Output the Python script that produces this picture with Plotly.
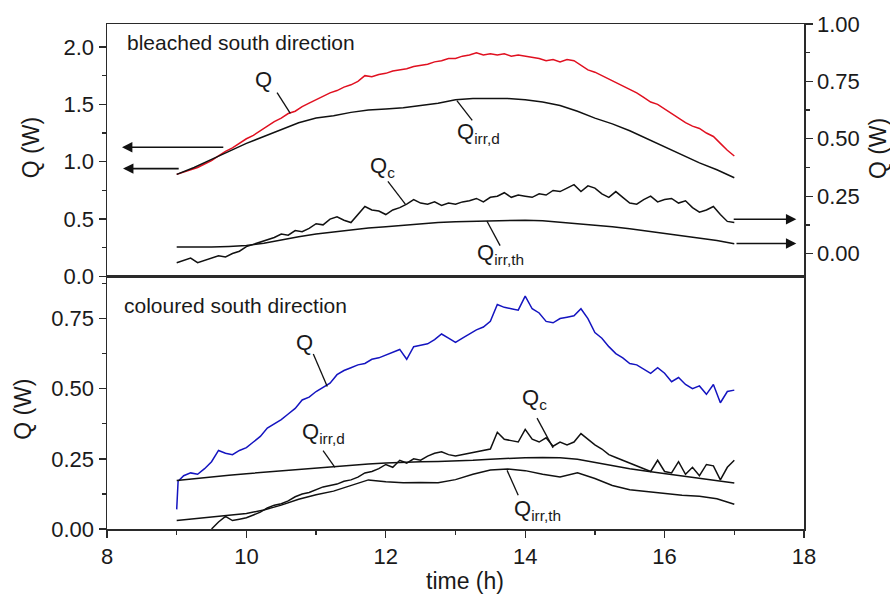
import plotly.graph_objects as go

# ---------------- data ----------------
t_fine = [9.0, 9.1, 9.2, 9.3, 9.4, 9.5, 9.6, 9.7, 9.8, 9.9,
          10.0, 10.1, 10.2, 10.3, 10.4, 10.5, 10.6, 10.7, 10.8, 10.9,
          11.0, 11.1, 11.2, 11.3, 11.4, 11.5, 11.6, 11.7, 11.8, 11.9,
          12.0, 12.1, 12.2, 12.3, 12.4, 12.5, 12.6, 12.7, 12.8, 12.9,
          13.0, 13.1, 13.2, 13.3, 13.4, 13.5, 13.6, 13.7, 13.8, 13.9,
          14.0, 14.1, 14.2, 14.3, 14.4, 14.5, 14.6, 14.7, 14.8, 14.9,
          15.0, 15.1, 15.2, 15.3, 15.4, 15.5, 15.6, 15.7, 15.8, 15.9,
          16.0, 16.1, 16.2, 16.3, 16.4, 16.5, 16.6, 16.7, 16.8, 16.9,
          17.0]

t_coarse = [9.0, 9.25, 9.5, 9.75, 10.0, 10.25, 10.5, 10.75, 11.0, 11.25, 11.5,
            11.75, 12.0, 12.25, 12.5, 12.75, 13.0, 13.25, 13.5, 13.75, 14.0,
            14.25, 14.5, 14.75, 15.0, 15.25, 15.5, 15.75, 16.0, 16.25, 16.5,
            16.75, 17.0]

t_blue = [9.0, 9.02, 9.1, 9.2, 9.3, 9.4, 9.5, 9.6, 9.7, 9.8, 9.9,
          10.0, 10.1, 10.2, 10.3, 10.4, 10.5, 10.6, 10.7, 10.8, 10.9,
          11.0, 11.1, 11.2, 11.3, 11.4, 11.5, 11.6, 11.7, 11.8, 11.9,
          12.0, 12.1, 12.2, 12.3, 12.4, 12.5, 12.6, 12.7, 12.8, 12.9,
          13.0, 13.1, 13.2, 13.3, 13.4, 13.5, 13.6, 13.7, 13.8, 13.9,
          14.0, 14.1, 14.2, 14.3, 14.4, 14.5, 14.6, 14.7, 14.8, 14.9,
          15.0, 15.1, 15.2, 15.3, 15.4, 15.5, 15.6, 15.7, 15.8, 15.9,
          16.0, 16.1, 16.2, 16.3, 16.4, 16.5, 16.6, 16.7, 16.8, 16.9,
          17.0]

# bleached south direction (top panel)
bleached_Q = [0.89, 0.91, 0.93, 0.95, 0.98, 1.01, 1.05, 1.09, 1.12, 1.16,
              1.20, 1.23, 1.27, 1.31, 1.35, 1.38, 1.42, 1.44, 1.48, 1.51,
              1.54, 1.57, 1.60, 1.62, 1.65, 1.67, 1.70, 1.75, 1.74, 1.76,
              1.77, 1.79, 1.80, 1.81, 1.83, 1.84, 1.85, 1.87, 1.88, 1.90,
              1.90, 1.92, 1.93, 1.95, 1.93, 1.94, 1.93, 1.94, 1.92, 1.93,
              1.92, 1.91, 1.90, 1.88, 1.89, 1.87, 1.89, 1.88, 1.84, 1.80,
              1.78, 1.75, 1.72, 1.69, 1.66, 1.63, 1.60, 1.56, 1.52, 1.50,
              1.46, 1.42, 1.38, 1.34, 1.31, 1.29, 1.25, 1.22, 1.16, 1.10,
              1.05]

bleached_Qirr_d = [0.89, 0.95, 1.02, 1.09, 1.16, 1.22, 1.28, 1.34, 1.38, 1.40, 1.43,
                   1.45, 1.46, 1.47, 1.49, 1.51, 1.54, 1.55, 1.55, 1.55, 1.54,
                   1.52, 1.49, 1.44, 1.38, 1.33, 1.27, 1.20, 1.13, 1.06, 0.99,
                   0.93, 0.86]

bleached_Qc = [-0.04, -0.03, -0.02, -0.04, -0.03, -0.02, -0.01, -0.015, 0.00, 0.01,
               0.03, 0.04, 0.05, 0.06, 0.07, 0.085, 0.08, 0.10, 0.095, 0.11,
               0.13, 0.125, 0.15, 0.16, 0.145, 0.135, 0.17, 0.205, 0.19, 0.185,
               0.17, 0.19, 0.20, 0.215, 0.235, 0.22, 0.215, 0.225, 0.21, 0.22,
               0.215, 0.225, 0.23, 0.24, 0.225, 0.245, 0.25, 0.265, 0.245, 0.255,
               0.25, 0.245, 0.26, 0.255, 0.275, 0.27, 0.285, 0.30, 0.27, 0.295,
               0.285, 0.26, 0.245, 0.27, 0.245, 0.22, 0.215, 0.235, 0.25, 0.225,
               0.235, 0.24, 0.22, 0.23, 0.20, 0.18, 0.19, 0.205, 0.17, 0.14,
               0.135]

bleached_Qirr_th = [0.028, 0.027, 0.028, 0.031, 0.035, 0.045, 0.06, 0.073, 0.085, 0.094, 0.103,
                    0.111, 0.117, 0.124, 0.13, 0.135, 0.139, 0.141, 0.143, 0.146, 0.145,
                    0.143, 0.137, 0.13, 0.123, 0.117, 0.108, 0.098, 0.088, 0.079, 0.07,
                    0.057, 0.043]

# coloured south direction (bottom panel)
coloured_Q = [0.07, 0.17,
              0.19, 0.20, 0.195, 0.215, 0.24, 0.28, 0.27, 0.265, 0.28,
              0.29, 0.31, 0.33, 0.36, 0.375, 0.39, 0.41, 0.43, 0.46, 0.47,
              0.49, 0.505, 0.52, 0.55, 0.565, 0.575, 0.585, 0.59, 0.605, 0.61,
              0.62, 0.63, 0.64, 0.605, 0.65, 0.655, 0.66, 0.675, 0.695, 0.68,
              0.665, 0.68, 0.695, 0.71, 0.72, 0.74, 0.80, 0.79, 0.785, 0.78,
              0.83, 0.785, 0.77, 0.74, 0.735, 0.75, 0.755, 0.76, 0.785, 0.75,
              0.70, 0.68, 0.65, 0.625, 0.61, 0.59, 0.585, 0.57, 0.555, 0.575,
              0.555, 0.525, 0.54, 0.515, 0.50, 0.51, 0.48, 0.515, 0.45, 0.49,
              0.495]

coloured_Qirr_d = [0.173, 0.18, 0.186, 0.192, 0.197, 0.202, 0.207, 0.213, 0.219, 0.224, 0.228,
                   0.232, 0.235, 0.238, 0.24, 0.241, 0.242, 0.245, 0.249, 0.252, 0.254,
                   0.255, 0.254, 0.249, 0.238, 0.225, 0.215, 0.206, 0.198, 0.19, 0.182,
                   0.173, 0.164]

coloured_Qc = [None, None, None, None, None, 0.00, 0.025, 0.045, 0.03, 0.035,
               0.04, 0.05, 0.06, 0.075, 0.085, 0.09, 0.10, 0.115, 0.125, 0.13,
               0.14, 0.15, 0.155, 0.16, 0.17, 0.175, 0.185, 0.20, 0.205, 0.215,
               0.23, 0.22, 0.245, 0.235, 0.25, 0.245, 0.26, 0.27, 0.275, 0.265,
               0.26, 0.265, 0.27, 0.275, 0.28, 0.285, 0.345, 0.32, 0.315, 0.31,
               0.355, 0.32, 0.31, 0.325, 0.295, 0.31, 0.30, 0.31, 0.34, 0.32,
               0.30, 0.285, 0.265, 0.255, 0.245, 0.235, 0.225, 0.215, 0.205, 0.245,
               0.205, 0.20, 0.24, 0.195, 0.22, 0.19, 0.23, 0.225, 0.175, 0.22,
               0.245]

coloured_Qirr_th = [0.03, 0.036, 0.042, 0.048, 0.055, 0.068, 0.085, 0.106, 0.122, 0.135, 0.155,
                    0.175, 0.168, 0.165, 0.166, 0.165, 0.176, 0.195, 0.21, 0.214, 0.208,
                    0.195, 0.185, 0.2, 0.18, 0.155, 0.14, 0.133, 0.127, 0.12, 0.117,
                    0.108, 0.088]

# ---------------- styling ----------------
FONT = "Arial, 'Liberation Sans', sans-serif"
TXT = "#1a1a1a"
AX = "#2a2a2a"
RED = "#e01020"
BLUE = "#1414c0"
BLACK = "#111111"

fig = go.Figure()

def line(x, y, color, xa, ya):
    fig.add_trace(go.Scatter(x=x, y=y, mode="lines", xaxis=xa, yaxis=ya,
                             line=dict(color=color, width=1.5),
                             showlegend=False, hoverinfo="skip"))

# top panel
line(t_fine, bleached_Q, RED, "x2", "y2")
line(t_coarse, bleached_Qirr_d, BLACK, "x2", "y2")
line(t_fine, bleached_Qc, BLACK, "x2", "y3")
line(t_coarse, bleached_Qirr_th, BLACK, "x2", "y3")
# bottom panel
line(t_blue, coloured_Q, BLUE, "x", "y")
line(t_coarse, coloured_Qirr_d, BLACK, "x", "y")
line(t_fine, coloured_Qc, BLACK, "x", "y")
line(t_coarse, coloured_Qirr_th, BLACK, "x", "y")

tickfont = dict(family=FONT, size=22, color=TXT)
common = dict(showline=True, linecolor=AX, linewidth=1.5, ticks="outside",
              ticklen=7, tickwidth=1.3, tickcolor=AX, showgrid=False,
              zeroline=False, tickfont=tickfont)
minor_style = dict(ticks="outside", ticklen=4, tickcolor=AX, tickwidth=1.3)

fig.update_layout(
    width=890, height=604,
    margin=dict(l=107, r=86, t=17, b=75),
    paper_bgcolor="white", plot_bgcolor="white",
    font=dict(family=FONT, color=TXT),
    xaxis=dict(domain=[0, 1], range=[8, 18], dtick=2, tick0=8, anchor="y",
               mirror=True, minor=dict(dtick=1, **minor_style), **common),
    xaxis2=dict(domain=[0, 1], range=[8, 18], anchor="y2", matches="x",
                showline=True, linecolor=AX, linewidth=1.5, mirror=True,
                showticklabels=False, ticks="", showgrid=False, zeroline=False),
    yaxis=dict(domain=[0, 0.5], range=[0, 0.9], dtick=0.25, tick0=0,
               tickformat=".2f", anchor="x", mirror=True,
               minor=dict(dtick=0.125, **minor_style), **common),
    yaxis2=dict(domain=[0.5, 1], range=[0, 2.2], dtick=0.5, tick0=0,
                tickformat=".1f", anchor="x2",
                minor=dict(dtick=0.25, **minor_style), **common),
    yaxis3=dict(range=[-0.1, 1.0], dtick=0.25, tick0=0, tickformat=".2f",
                overlaying="y2", side="right", anchor="x2",
                minor=dict(dtick=0.125, **minor_style), **common),
)

ann = []
# axis titles
title_font = dict(family=FONT, size=23, color=TXT)
ann.append(dict(text="Q (W)", xref="paper", yref="paper", x=-0.109, y=0.754,
                textangle=-90, showarrow=False, font=title_font,
                xanchor="center", yanchor="middle"))
ann.append(dict(text="Q (W)", xref="paper", yref="paper", x=-0.1205, y=0.236,
                textangle=-90, showarrow=False, font=title_font,
                xanchor="center", yanchor="middle"))
ann.append(dict(text="Q (W)", xref="paper", yref="paper", x=1.106, y=0.754,
                textangle=-90, showarrow=False, font=title_font,
                xanchor="center", yanchor="middle"))
ann.append(dict(text="time (h)", xref="paper", yref="paper", x=0.514, y=-0.1035,
                showarrow=False, font=title_font, xanchor="center", yanchor="middle"))

# panel labels
pfont = dict(family=FONT, size=21, color=TXT)
ann.append(dict(text="bleached south direction", xref="paper", yref="paper",
                x=0.026, y=0.964, showarrow=False, font=pfont,
                xanchor="left", yanchor="middle"))
ann.append(dict(text="coloured south direction", xref="paper", yref="paper",
                x=0.021, y=0.443, showarrow=False, font=pfont,
                xanchor="left", yanchor="middle"))

# curve labels
lfont = dict(family=FONT, size=22, color=TXT)
labels = [
    ("Q", "x2", "y2", 10.24, 1.714),
    ("Q<sub>irr,d</sub>", "x2", "y2", 13.33, 1.25),
    ("Q<sub>c</sub>", "x2", "y2", 11.95, 0.957),
    ("Q<sub>irr,th</sub>", "x2", "y2", 13.64, 0.2),
    ("Q", "x", "y", 10.84, 0.666),
    ("Q<sub>irr,d</sub>", "x", "y", 11.1, 0.342),
    ("Q<sub>c</sub>", "x", "y", 14.13, 0.462),
    ("Q<sub>irr,th</sub>", "x", "y", 14.17, 0.068),
]
for txt, xr, yr, xv, yv in labels:
    ann.append(dict(text=txt, xref=xr, yref=yr, x=xv, y=yv, showarrow=False,
                    font=lfont, xanchor="center", yanchor="middle"))

fig.update_layout(annotations=ann)

# axis-indicating arrows
arrows = [
    (8.215, 1.126, 9.69),
    (8.23, 0.94, 9.05),
    (17.89, 0.499, 16.97),
    (17.89, 0.287, 17.01),
]
for xt, yv, xs in arrows:
    fig.add_annotation(text=" ", xref="x2", yref="y2", axref="x2", ayref="y2",
                       x=xt, y=yv, ax=xs, ay=yv, showarrow=True, arrowhead=2,
                       arrowsize=1.3, arrowwidth=1.6, arrowcolor=BLACK,
                       font=dict(size=1))

# leader lines
leaders = [
    ("x2", "y2", 10.44, 1.602, 10.63, 1.421),
    ("x2", "y2", 13.02, 1.533, 13.24, 1.36),
    ("x2", "y2", 12.03, 0.828, 12.28, 0.630),
    ("x2", "y2", 13.45, 0.484, 13.64, 0.269),
    ("x", "y", 10.96, 0.624, 11.16, 0.508),
    ("x", "y", 11.1, 0.279, 11.27, 0.22),
    ("x", "y", 14.17, 0.395, 14.4, 0.289),
    ("x", "y", 13.74, 0.209, 13.9, 0.12),
]
for xr, yr, x0, y0, x1, y1 in leaders:
    fig.add_shape(type="line", xref=xr, yref=yr, x0=x0, y0=y0, x1=x1, y1=y1,
                  line=dict(color=BLACK, width=1.3))

fig.write_html(
    "out.html",
    config={"displayModeBar": False, "staticPlot": True},
    post_script="document.body.style.margin='0';document.body.style.padding='0';"
                "document.body.style.overflow='hidden';"
                "document.documentElement.style.overflow='hidden';",
)
